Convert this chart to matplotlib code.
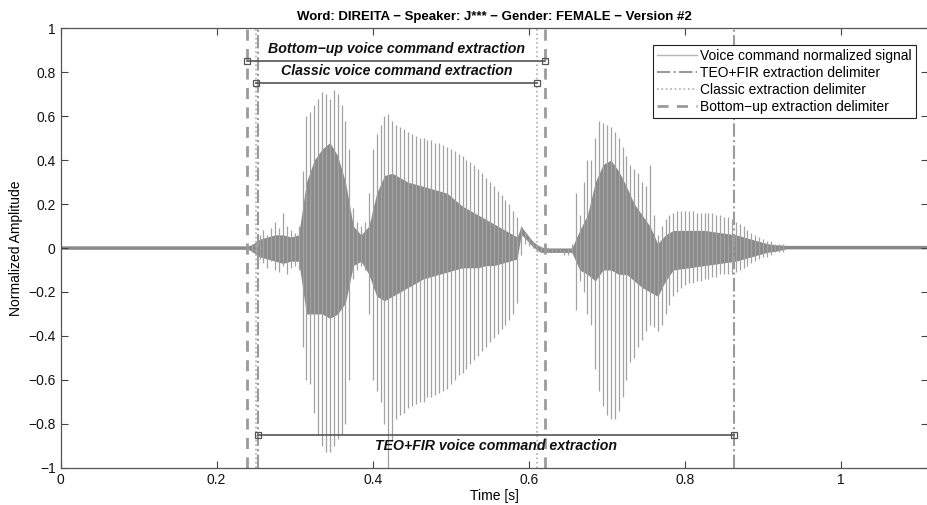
import numpy as np
import matplotlib.pyplot as plt
from matplotlib.lines import Line2D

plt.rcParams['font.family'] = ['Liberation Sans', 'DejaVu Sans']

# envelope of the signal, read every 5 ms over the spoken part
t_env = np.round(np.arange(0.245, 0.9251, 0.005), 3)
env_hi = [0.02, 0.03, 0.06, 0.08, 0.06, 0.09, 0.12, 0.09, 0.16, 0.10,
          0.08, 0.07, 0.10, 0.35, 0.60, 0.62, 0.65, 0.68, 0.71, 0.70,
          0.68, 0.72, 0.70, 0.65, 0.58, 0.45, 0.18, 0.12, 0.10, 0.12,
          0.25, 0.45, 0.52, 0.56, 0.60, 0.61, 0.58, 0.56, 0.55, 0.54,
          0.53, 0.52, 0.51, 0.50, 0.50, 0.49, 0.49, 0.48, 0.48, 0.47,
          0.46, 0.45, 0.44, 0.43, 0.42, 0.40, 0.39, 0.38, 0.36, 0.34,
          0.32, 0.30, 0.28, 0.26, 0.24, 0.22, 0.20, 0.17, 0.14, 0.10,
          0.07, 0.05, 0.03, 0.01, 0.01, 0.00, 0.00, 0.00, 0.00, 0.00,
          -0.01, 0.00, 0.02, 0.25, 0.15, 0.30, 0.40, 0.40, 0.50, 0.58,
          0.57, 0.56, 0.55, 0.53, 0.50, 0.46, 0.42, 0.38, 0.36, 0.34,
          0.30, 0.28, 0.38, 0.15, 0.06, 0.10, 0.13, 0.15, 0.16, 0.17,
          0.17, 0.17, 0.17, 0.17, 0.16, 0.16, 0.16, 0.16, 0.16, 0.15,
          0.15, 0.14, 0.14, 0.13, 0.12, 0.11, 0.10, 0.08, 0.07, 0.06,
          0.05, 0.04, 0.03, 0.03, 0.02, 0.02, 0.02]
env_lo = [-0.02, -0.03, -0.05, -0.07, -0.09, -0.06, -0.10, -0.11, -0.08, -0.12,
          -0.09, -0.08, -0.10, -0.45, -0.60, -0.62, -0.75, -0.85, -0.90, -0.93,
          -0.93, -0.90, -0.87, -0.85, -0.80, -0.60, -0.14, -0.10, -0.08, -0.10,
          -0.30, -0.60, -0.65, -0.70, -0.80, -1.00, -0.88, -0.78, -0.76, -0.75,
          -0.73, -0.72, -0.71, -0.70, -0.70, -0.68, -0.68, -0.67, -0.66, -0.65,
          -0.64, -0.62, -0.60, -0.58, -0.57, -0.55, -0.53, -0.51, -0.49, -0.47,
          -0.45, -0.43, -0.41, -0.39, -0.37, -0.35, -0.33, -0.30, -0.25, -0.03,
          0.02, 0.01, -0.00, -0.02, -0.02, -0.02, -0.02, -0.02, -0.02, -0.02,
          -0.03, -0.03, -0.02, -0.28, -0.15, -0.20, -0.30, -0.35, -0.55, -0.65,
          -0.72, -0.76, -0.78, -0.78, -0.74, -0.68, -0.60, -0.52, -0.50, -0.45,
          -0.42, -0.38, -0.35, -0.36, -0.38, -0.35, -0.30, -0.26, -0.22, -0.20,
          -0.18, -0.17, -0.16, -0.16, -0.15, -0.15, -0.14, -0.14, -0.13, -0.13,
          -0.12, -0.12, -0.12, -0.12, -0.11, -0.10, -0.09, -0.08, -0.07, -0.06,
          -0.05, -0.04, -0.04, -0.03, -0.02, -0.02, -0.02]

# dense (darker) core of the waveform, incl. background noise
core_t = [0.0, 0.24, 0.245, 0.255, 0.265, 0.275, 0.285, 0.295, 0.305, 0.315,
          0.325, 0.335, 0.345, 0.355, 0.365, 0.375, 0.385, 0.395, 0.405, 0.415,
          0.425, 0.435, 0.445, 0.455, 0.465, 0.475, 0.485, 0.495, 0.505, 0.515,
          0.525, 0.535, 0.545, 0.555, 0.565, 0.575, 0.585, 0.59, 0.595, 0.605,
          0.615, 0.625, 0.655, 0.665, 0.675, 0.685, 0.695, 0.705, 0.715, 0.725,
          0.735, 0.745, 0.755, 0.765, 0.775, 0.785, 0.825, 0.865, 0.875, 0.885,
          0.895, 0.905, 0.915, 0.93, 1.12]
core_hi = [0.010, 0.010, 0.015, 0.04, 0.05, 0.06, 0.06, 0.05, 0.06, 0.30,
           0.40, 0.45, 0.48, 0.42, 0.30, 0.10, 0.06, 0.10, 0.25, 0.33,
           0.34, 0.32, 0.30, 0.29, 0.28, 0.27, 0.26, 0.25, 0.22, 0.19,
           0.17, 0.15, 0.13, 0.11, 0.09, 0.07, 0.05, 0.10, 0.075, 0.03,
           0.005, 0.0, 0.0, 0.08, 0.15, 0.30, 0.38, 0.40, 0.35, 0.28,
           0.20, 0.15, 0.10, 0.02, 0.06, 0.08, 0.08, 0.06, 0.05, 0.04,
           0.03, 0.02, 0.015, 0.012, 0.012]
core_lo = [-0.006, -0.006, -0.015, -0.04, -0.05, -0.06, -0.07, -0.06, -0.06, -0.30,
           -0.30, -0.30, -0.32, -0.30, -0.25, -0.08, -0.06, -0.12, -0.22, -0.24,
           -0.22, -0.20, -0.18, -0.16, -0.14, -0.13, -0.12, -0.11, -0.10, -0.09,
           -0.09, -0.09, -0.08, -0.08, -0.07, -0.06, -0.05, 0.06, 0.045, 0.005,
           -0.02, -0.02, -0.02, -0.10, -0.12, -0.15, -0.10, -0.10, -0.12, -0.12,
           -0.15, -0.18, -0.20, -0.22, -0.15, -0.10, -0.08, -0.06, -0.05, -0.04,
           -0.03, -0.02, -0.015, -0.004, -0.004]

# extraction delimiters [start, end] in seconds
teo_fir = [0.2535, 0.863]
classic = [0.2505, 0.6105]
bottom_up = [0.2395, 0.621]

sig_color = '#a2a2a2'
core_color = '#8a8a8a'
delim_color = '#9b9b9b'
bar_color = '#555555'
fs = 10

fig = plt.figure(figsize=(9.27, 5.05), dpi=100)
ax = fig.add_axes([0.0653, 0.0739, 0.936, 0.870])

ax.vlines(t_env, env_lo, env_hi, color=sig_color, lw=0.9)
ax.fill_between(core_t, core_lo, core_hi, color=core_color, lw=0)

for x in teo_fir:
    ax.axvline(x, color=delim_color, ls='-.', lw=1.5)
for x in classic:
    ax.axvline(x, color='#b0b0b0', ls=':', lw=1.2)
for x in bottom_up:
    ax.axvline(x, color=delim_color, ls=(0, (4, 3)), lw=2)

# extraction spans
spans = [(bottom_up, 0.85, 0.875, 'Bottom\u2212up voice command extraction', 'bottom'),
         (classic, 0.75, 0.775, 'Classic voice command extraction', 'bottom'),
         (teo_fir, -0.85, -0.87, 'TEO+FIR voice command extraction', 'top')]
for xs, y, ty, label, va in spans:
    ax.plot(xs, [y, y], color=bar_color, lw=1.2, marker='s', ms=5,
            mfc='none', mec=bar_color, mew=0.9)
    ax.text(sum(xs) / 2, ty, label, ha='center', va=va, fontsize=10.2,
            fontweight='bold', fontstyle='italic', color='#111111')

ax.set_xlim(0, 1.1115)
ax.set_ylim(-1, 1)
ax.set_xticks([0, 0.2, 0.4, 0.6, 0.8, 1])
ax.set_xticklabels(['0', '0.2', '0.4', '0.6', '0.8', '1'])
ax.set_yticks(np.round(np.arange(-1, 1.01, 0.2), 1))
ax.set_yticklabels(['\u22121', '\u22120.8', '\u22120.6', '\u22120.4', '\u22120.2',
                    '0', '0.2', '0.4', '0.6', '0.8', '1'])
ax.tick_params(direction='in', top=True, right=True, length=5, width=0.8,
               labelsize=fs, colors='#444444', labelcolor='#111111')
for s in ax.spines.values():
    s.set_color('#555555')
    s.set_linewidth(0.9)

ax.set_xlabel('Time [s]', fontsize=fs)
ax.xaxis.set_label_coords(0.5, -0.048)
ax.set_ylabel('Normalized Amplitude', fontsize=fs)
ax.yaxis.set_label_coords(-0.043, 0.5)
ax.set_title('Word: DIREITA \u2212 Speaker: J*** \u2212 Gender: FEMALE \u2212 Version #2',
             fontsize=9.5, fontweight='bold', pad=6)

handles = [Line2D([], [], color='#b5b5b5', lw=1),
           Line2D([], [], color=delim_color, ls='-.', lw=1.5),
           Line2D([], [], color='#b0b0b0', ls=':', lw=1.2),
           Line2D([], [], color=delim_color, ls=(0, (4, 3)), lw=2)]
labels = ['Voice command normalized signal', 'TEO+FIR extraction delimiter',
          'Classic extraction delimiter', 'Bottom\u2212up extraction delimiter']
leg = ax.legend(handles, labels, loc='upper right', bbox_to_anchor=(0.986, 0.963),
                fontsize=fs, handlelength=2.9, handletextpad=0.2, borderpad=0.3,
                labelspacing=0.22, borderaxespad=0, fancybox=False, framealpha=1)
leg.get_frame().set_edgecolor('#222222')
leg.get_frame().set_linewidth(0.8)

fig.savefig('out.png', dpi=100)
